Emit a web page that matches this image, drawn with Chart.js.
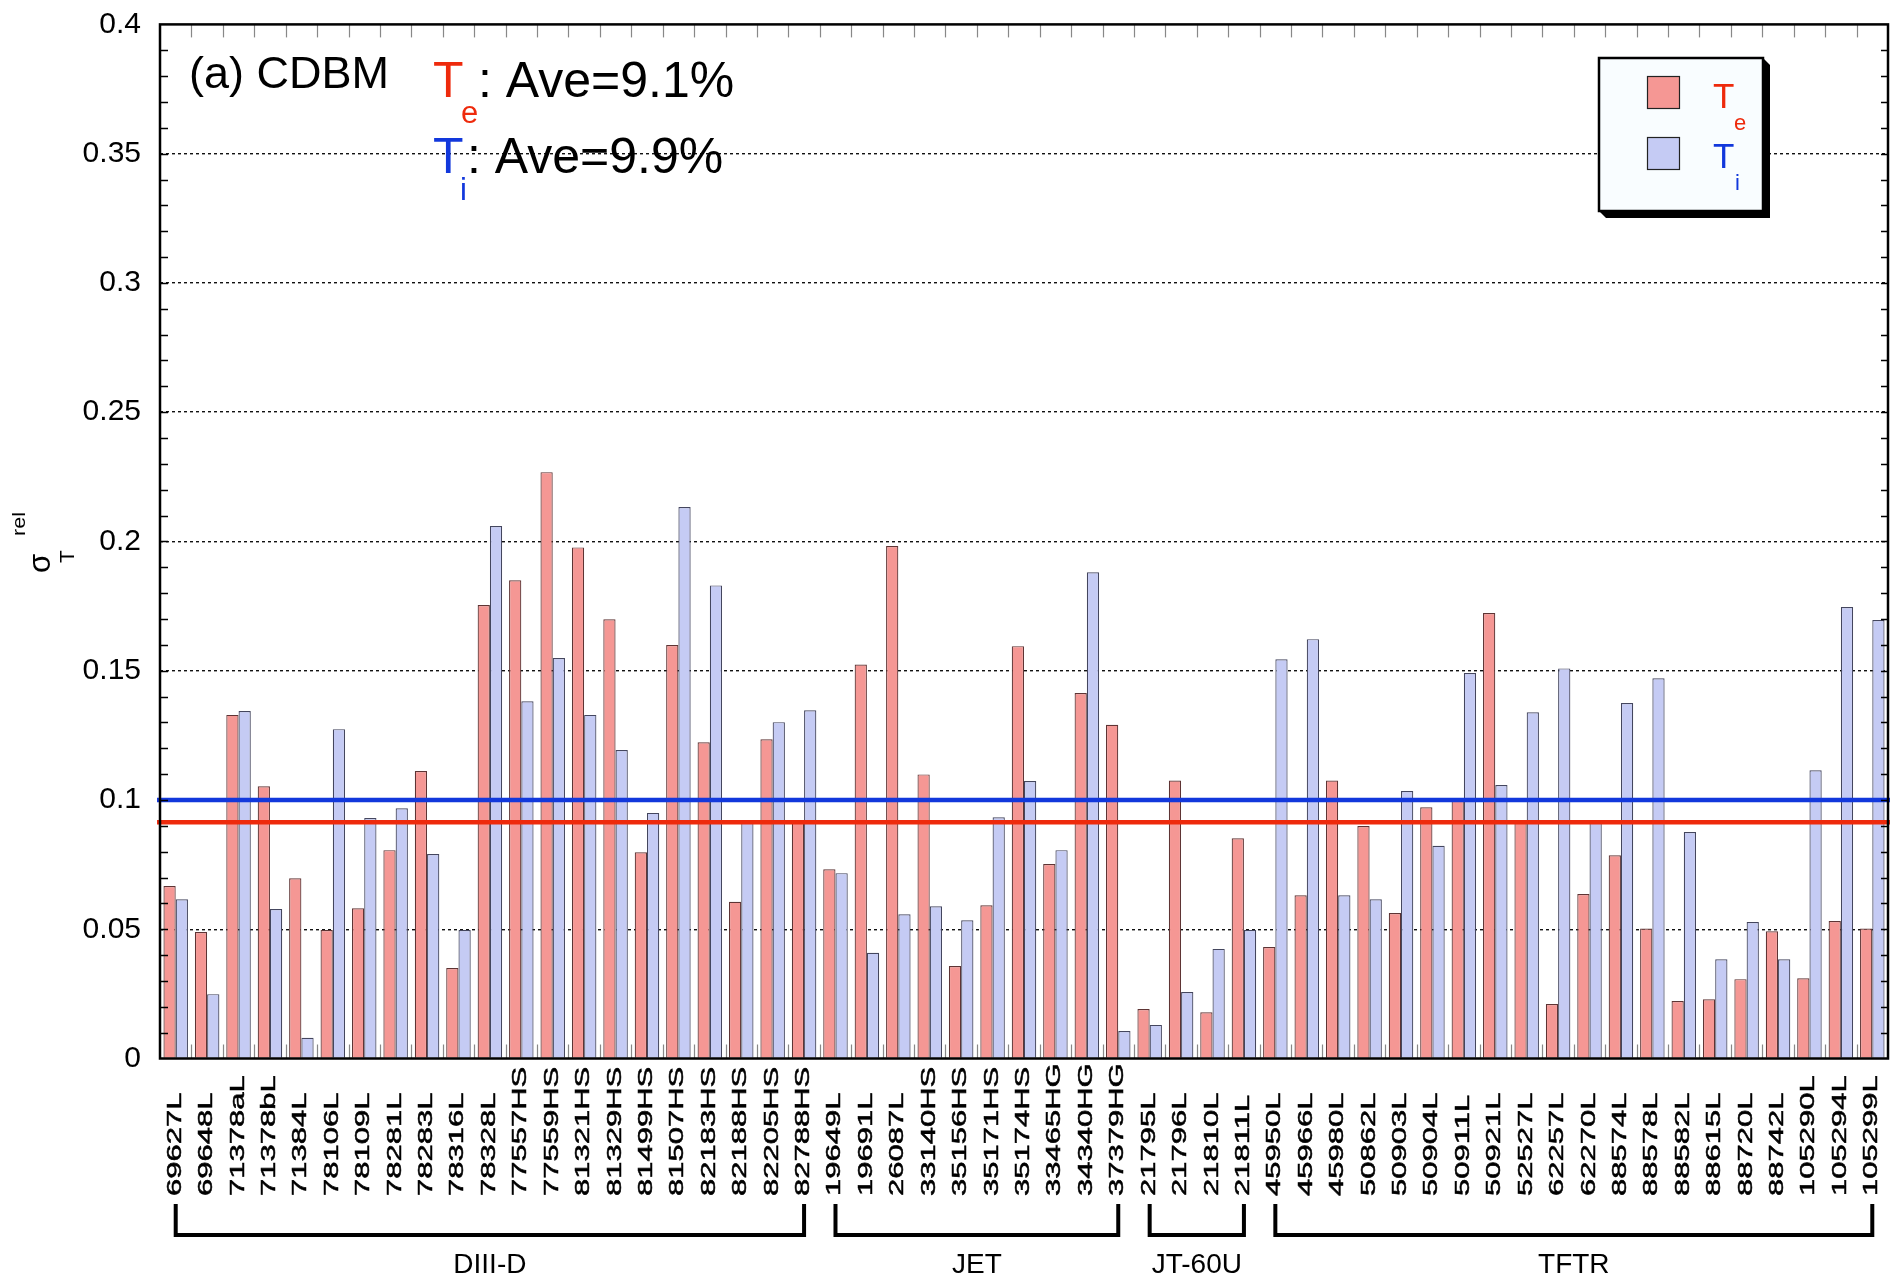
<!DOCTYPE html>
<html><head><meta charset="utf-8">
<script src="https://cdn.jsdelivr.net/npm/chart.js@4.4.0/dist/chart.umd.min.js"></script>
<style>html,body{margin:0;padding:0;background:#fff;}#wrap{width:1890px;height:1278px;}</style>
</head><body><div id="wrap"><canvas id="c" width="1890" height="1278"></canvas></div>
<script>
const categories = ['69627L','69648L','71378aL','71378bL','71384L','78106L','78109L','78281L','78283L','78316L','78328L','77557HS','77559HS','81321HS','81329HS','81499HS','81507HS','82183HS','82188HS','82205HS','82788HS',
 '19649L','19691L','26087L','33140HS','35156HS','35171HS','35174HS','33465HG','34340HG','37379HG',
 '21795L','21796L','21810L','21811L',
 '45950L','45966L','45980L','50862L','50903L','50904L','50911L','50921L','52527L','62257L','62270L','88574L','88578L','88582L','88615L','88720L','88742L','105290L','105294L','105299L'];
const teValues = [0.0667,0.0489,0.1329,0.1053,0.0697,0.0497,0.0581,0.0806,0.1112,0.0350,0.1754,0.1850,0.2268,0.1977,0.1699,0.0798,0.1599,0.1223,0.0606,0.1235,0.0922,
 0.0732,0.1524,0.1982,0.1099,0.0358,0.0593,0.1595,0.0752,0.1414,0.1291,
 0.0191,0.1075,0.0179,0.0852,
 0.0431,0.0631,0.1075,0.0899,0.0563,0.0972,0.1002,0.1723,0.0920,0.0211,0.0636,0.0786,0.0503,0.0222,0.0229,0.0307,0.0492,0.0310,0.0532,0.0503];
const tiValues = [0.0616,0.0249,0.1344,0.0578,0.0080,0.1274,0.0930,0.0968,0.0791,0.0497,0.2060,0.1382,0.1549,0.1329,0.1193,0.0950,0.2133,0.1830,0.0917,0.1301,0.1347,
 0.0717,0.0409,0.0558,0.0589,0.0535,0.0933,0.1073,0.0806,0.1881,0.0106,
 0.0130,0.0257,0.0424,0.0497,
 0.1544,0.1622,0.0631,0.0616,0.1035,0.0823,0.1491,0.1058,0.1339,0.1509,0.0917,0.1375,0.1471,0.0876,0.0384,0.0528,0.0384,0.1115,0.1746,0.1696];
const groupNames = ['DIII-D','JET','JT-60U','TFTR'];
const groupFirst = [0,21,31,35];
const groupLast = [20,30,34,54];
const aveTe = 0.0914;
const aveTi = 0.100;
const aveTeLabel = ': Ave=9.1%';
const aveTiLabel = ': Ave=9.9%';
const yMin = 0, yMax = 0.4, yStep = 0.05, yMinorStep = 0.01;

const FONT = '"Liberation Sans", Arial, Helvetica, sans-serif';
const RED = '#ee2a0c', BLUE = '#1238dc';
const TE_FILL = '#f59794', TI_FILL = '#c5cbf4';

const decor = {
  id: 'decor',
  afterDatasetsDraw(chart) {
    const ctx = chart.ctx, ys = chart.scales.y, a = chart.chartArea;
    ctx.save();
    ctx.lineWidth = 4.5;
    [[aveTi, BLUE], [aveTe, RED]].forEach(([v, c]) => {
      const y = ys.getPixelForValue(v);
      ctx.strokeStyle = c;
      ctx.beginPath(); ctx.moveTo(a.left - 3, y); ctx.lineTo(a.right + 2, y); ctx.stroke();
    });
    ctx.restore();
  },
  afterDraw(chart) {
    const ctx = chart.ctx, xs = chart.scales.x, ys = chart.scales.y, a = chart.chartArea;
    ctx.save();
    // category boundary ticks (top and bottom)
    ctx.strokeStyle = '#888'; ctx.lineWidth = 1.2;
    for (let i = 1; i < categories.length; i++) {
      const x = Math.round((xs.getPixelForValue(i - 1) + xs.getPixelForValue(i)) / 2) + 0.5;
      ctx.beginPath(); ctx.moveTo(x, a.top); ctx.lineTo(x, a.top + 13); ctx.stroke();
      ctx.beginPath(); ctx.moveTo(x, a.bottom); ctx.lineTo(x, a.bottom - 14); ctx.stroke();
    }
    // minor y ticks left & right
    ctx.strokeStyle = '#000'; ctx.lineWidth = 1.5;
    for (let k = 1; k < Math.round((yMax - yMin) / yMinorStep); k++) {
      const y = Math.round(ys.getPixelForValue(yMin + k * yMinorStep)) + 0.5;
      ctx.beginPath(); ctx.moveTo(a.left, y); ctx.lineTo(a.left + 8, y); ctx.stroke();
      ctx.beginPath(); ctx.moveTo(a.right, y); ctx.lineTo(a.right - 7, y); ctx.stroke();
    }
    // frame
    ctx.lineWidth = 2.5; ctx.strokeStyle = '#000';
    ctx.strokeRect(a.left, a.top, a.right - a.left, a.bottom - a.top);

    // x labels (rotated)
    ctx.fillStyle = '#000'; ctx.strokeStyle = '#000'; ctx.lineWidth = 0.5;
    ctx.font = '20px ' + FONT; ctx.textAlign = 'left'; ctx.textBaseline = 'alphabetic';
    categories.forEach((lab, i) => {
      const cx = xs.getPixelForValue(i);
      ctx.save(); ctx.translate(cx + 5, 1196); ctx.rotate(-Math.PI / 2); ctx.scale(1.55, 1);
      ctx.fillText(lab, 0, 0); ctx.strokeText(lab, 0, 0); ctx.restore();
    });
    // group brackets
    ctx.lineWidth = 4; ctx.lineJoin = 'miter'; ctx.lineCap = 'butt';
    ctx.font = '28px ' + FONT; ctx.textAlign = 'center';
    groupNames.forEach((g, k) => {
      const x1 = xs.getPixelForValue(groupFirst[k]), x2 = xs.getPixelForValue(groupLast[k]);
      ctx.beginPath(); ctx.moveTo(x1, 1204); ctx.lineTo(x1, 1235); ctx.lineTo(x2, 1235); ctx.lineTo(x2, 1204); ctx.stroke();
      ctx.fillText(g, (x1 + x2) / 2, 1273);
    });

    // y title sigma_T^rel
    ctx.save(); ctx.translate(50, 573); ctx.rotate(-Math.PI / 2);
    ctx.textAlign = 'left'; ctx.fillStyle = '#000';
    ctx.font = '31px ' + FONT; ctx.fillText('σ', 0, 0);
    ctx.font = '21px ' + FONT; ctx.fillText('T', 10, 24);
    ctx.save(); ctx.translate(37, -25); ctx.scale(1.2, 1); ctx.font = '18px ' + FONT; ctx.fillText('rel', 0, 0); ctx.restore();
    ctx.restore();

    // annotation texts
    ctx.textAlign = 'left'; ctx.textBaseline = 'alphabetic';
    ctx.fillStyle = '#000'; ctx.font = '45px ' + FONT; ctx.fillText('(a) CDBM', 189, 88);
    ctx.font = '50px ' + FONT;
    ctx.fillStyle = RED; ctx.fillText('T', 433, 97);
    ctx.fillStyle = '#000'; ctx.fillText(aveTeLabel, 478, 97);
    ctx.font = '31px ' + FONT; ctx.fillStyle = RED; ctx.fillText('e', 461, 123);
    ctx.font = '50px ' + FONT;
    ctx.fillStyle = BLUE; ctx.fillText('T', 433, 173);
    ctx.fillStyle = '#000'; ctx.fillText(aveTiLabel, 467, 173);
    ctx.font = '31px ' + FONT; ctx.fillStyle = BLUE; ctx.fillText('i', 460, 200);

    // legend box with shadow
    const bx = 1599, by = 58, bw = 164, bh = 153;
    ctx.fillStyle = '#000';
    ctx.beginPath();
    ctx.moveTo(bx + bw, by); ctx.lineTo(bx + bw + 7, by + 7); ctx.lineTo(bx + bw + 7, by + bh + 7);
    ctx.lineTo(bx + 7, by + bh + 7); ctx.lineTo(bx, by + bh); ctx.closePath(); ctx.fill();
    ctx.fillStyle = '#f9fdff'; ctx.fillRect(bx, by, bw, bh);
    ctx.lineWidth = 2.5; ctx.strokeStyle = '#000'; ctx.strokeRect(bx, by, bw, bh);
    ctx.lineWidth = 1.2; ctx.strokeStyle = '#222';
    ctx.fillStyle = TE_FILL; ctx.fillRect(1647, 76, 33, 33); ctx.strokeRect(1647.5, 76.5, 32, 32);
    ctx.fillStyle = TI_FILL; ctx.fillRect(1647, 137, 33, 33); ctx.strokeRect(1647.5, 137.5, 32, 32);
    ctx.font = '35px ' + FONT;
    ctx.fillStyle = RED; ctx.fillText('T', 1713, 108);
    ctx.fillStyle = BLUE; ctx.fillText('T', 1713, 168);
    ctx.font = '22px ' + FONT;
    ctx.fillStyle = RED; ctx.fillText('e', 1734, 130);
    ctx.fillStyle = BLUE; ctx.fillText('i', 1735, 190);
    ctx.restore();
  }
};

function fmtTick(v) { return String(+Number(v).toFixed(2)); }

new Chart(document.getElementById('c'), {
  type: 'bar',
  data: {
    labels: categories,
    datasets: [
      { label: 'Te', data: teValues, backgroundColor: TE_FILL, borderColor: '#5e3434', borderWidth: 1.2, categoryPercentage: 0.78, barPercentage: 1.0 },
      { label: 'Ti', data: tiValues, backgroundColor: TI_FILL, borderColor: '#44465e', borderWidth: 1.2, categoryPercentage: 0.78, barPercentage: 1.0 }
    ]
  },
  options: {
    responsive: false, animation: false, devicePixelRatio: 1,
    layout: { padding: { top: 24.4, right: 2, left: 0, bottom: 0 } },
    plugins: { legend: { display: false }, tooltip: { enabled: false } },
    scales: {
      x: {
        type: 'category', offset: true,
        grid: { display: false, drawTicks: false }, border: { display: false },
        ticks: { display: false },
        afterFit: s => { s.height = 219.5; }
      },
      y: {
        min: yMin, max: yMax,
        ticks: { stepSize: yStep, padding: 19, color: '#000', font: { family: FONT, size: 30, lineHeight: 0.3 }, callback: fmtTick },
        grid: { drawTicks: false, lineWidth: 1.4,
          color: c => (c.tick && c.tick.value > yMin + 1e-6 && c.tick.value < yMax - 1e-6) ? '#111' : 'rgba(0,0,0,0)' },
        border: { display: false, dash: [3, 3] },
        afterFit: s => { s.width = 160; }
      }
    }
  },
  plugins: [decor]
});
</script></body></html>
